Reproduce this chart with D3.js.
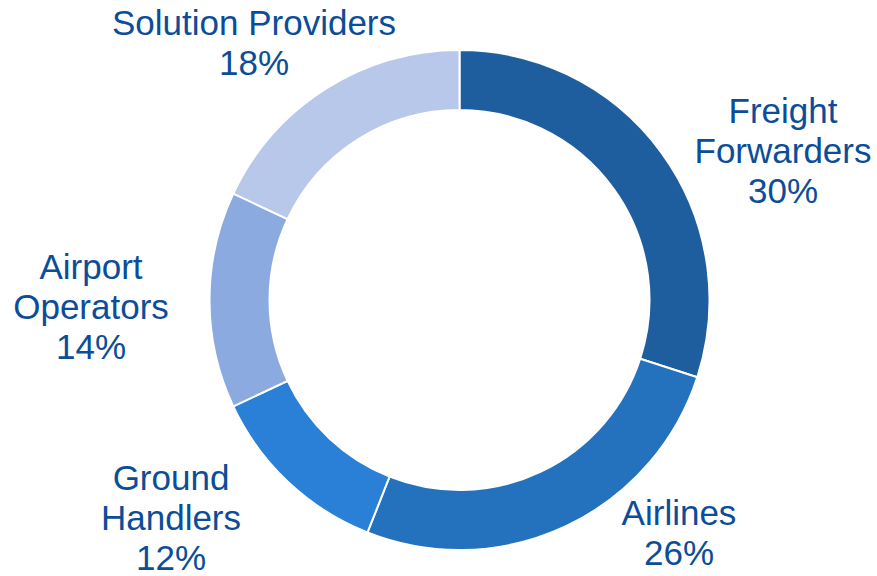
<!DOCTYPE html>
<html>
<head>
<meta charset="utf-8">
<script src="https://cdn.jsdelivr.net/npm/d3@7"></script>
<style>
  body { margin: 0; background: #fff; }
  text { font-family: "Liberation Sans", Arial, sans-serif; }
</style>
</head>
<body>
<div id="main-vis"></div>
<script>
// segment data, clockwise from 12 o'clock
const categories = ['Freight Forwarders', 'Airlines', 'Ground Handlers', 'Airport Operators', 'Solution Providers']
const shares = [30, 26, 12, 14, 18]
// how each label is broken into lines
const labelLines = [['Freight', 'Forwarders'], ['Airlines'], ['Ground', 'Handlers'], ['Airport', 'Operators'], ['Solution Providers']]

const colors = ['#1f5e9e', '#2471bd', '#2a7fd6', '#8aaae0', '#b8c8ea']

// label anchor points (centre x, first baseline y)
const labelAnchor = [[783, 123], [679, 525], [171, 490], [91, 279], [254, 35]]

const width = 877, height = 576
const cx = 459.5, cy = 300
const outerR = 250, innerR = 190
const lineH = 40

const svg = d3.create('svg')
    .attr('width', width)
    .attr('height', height)

const pie = d3.pie().sort(null).value(d => d)
const arc = d3.arc().innerRadius(innerR).outerRadius(outerR)

const arcs = pie(shares)

svg.append('g')
    .attr('transform', `translate(${cx},${cy})`)
    .selectAll('path')
    .data(arcs)
    .join('path')
    .attr('d', arc)
    .attr('fill', (d, i) => colors[i])
    .attr('stroke', '#fff')
    .attr('stroke-width', 2)

const labels = svg.append('g')
    .selectAll('text')
    .data(arcs)
    .join('text')
    .attr('text-anchor', 'middle')
    .attr('font-size', 35)
    .attr('fill', '#0b4d98')
    .attr('x', (d, i) => labelAnchor[i][0])
    .attr('y', (d, i) => labelAnchor[i][1])

labels.each(function (d, i) {
    const t = d3.select(this)
    const lines = labelLines[i].concat([shares[i] + '%'])
    lines.forEach((s, j) => {
        t.append('tspan')
            .attr('x', labelAnchor[i][0])
            .attr('dy', j === 0 ? 0 : lineH)
            .text(s)
    })
})

document.querySelector('#main-vis').appendChild(svg.node())
</script>
</body>
</html>
